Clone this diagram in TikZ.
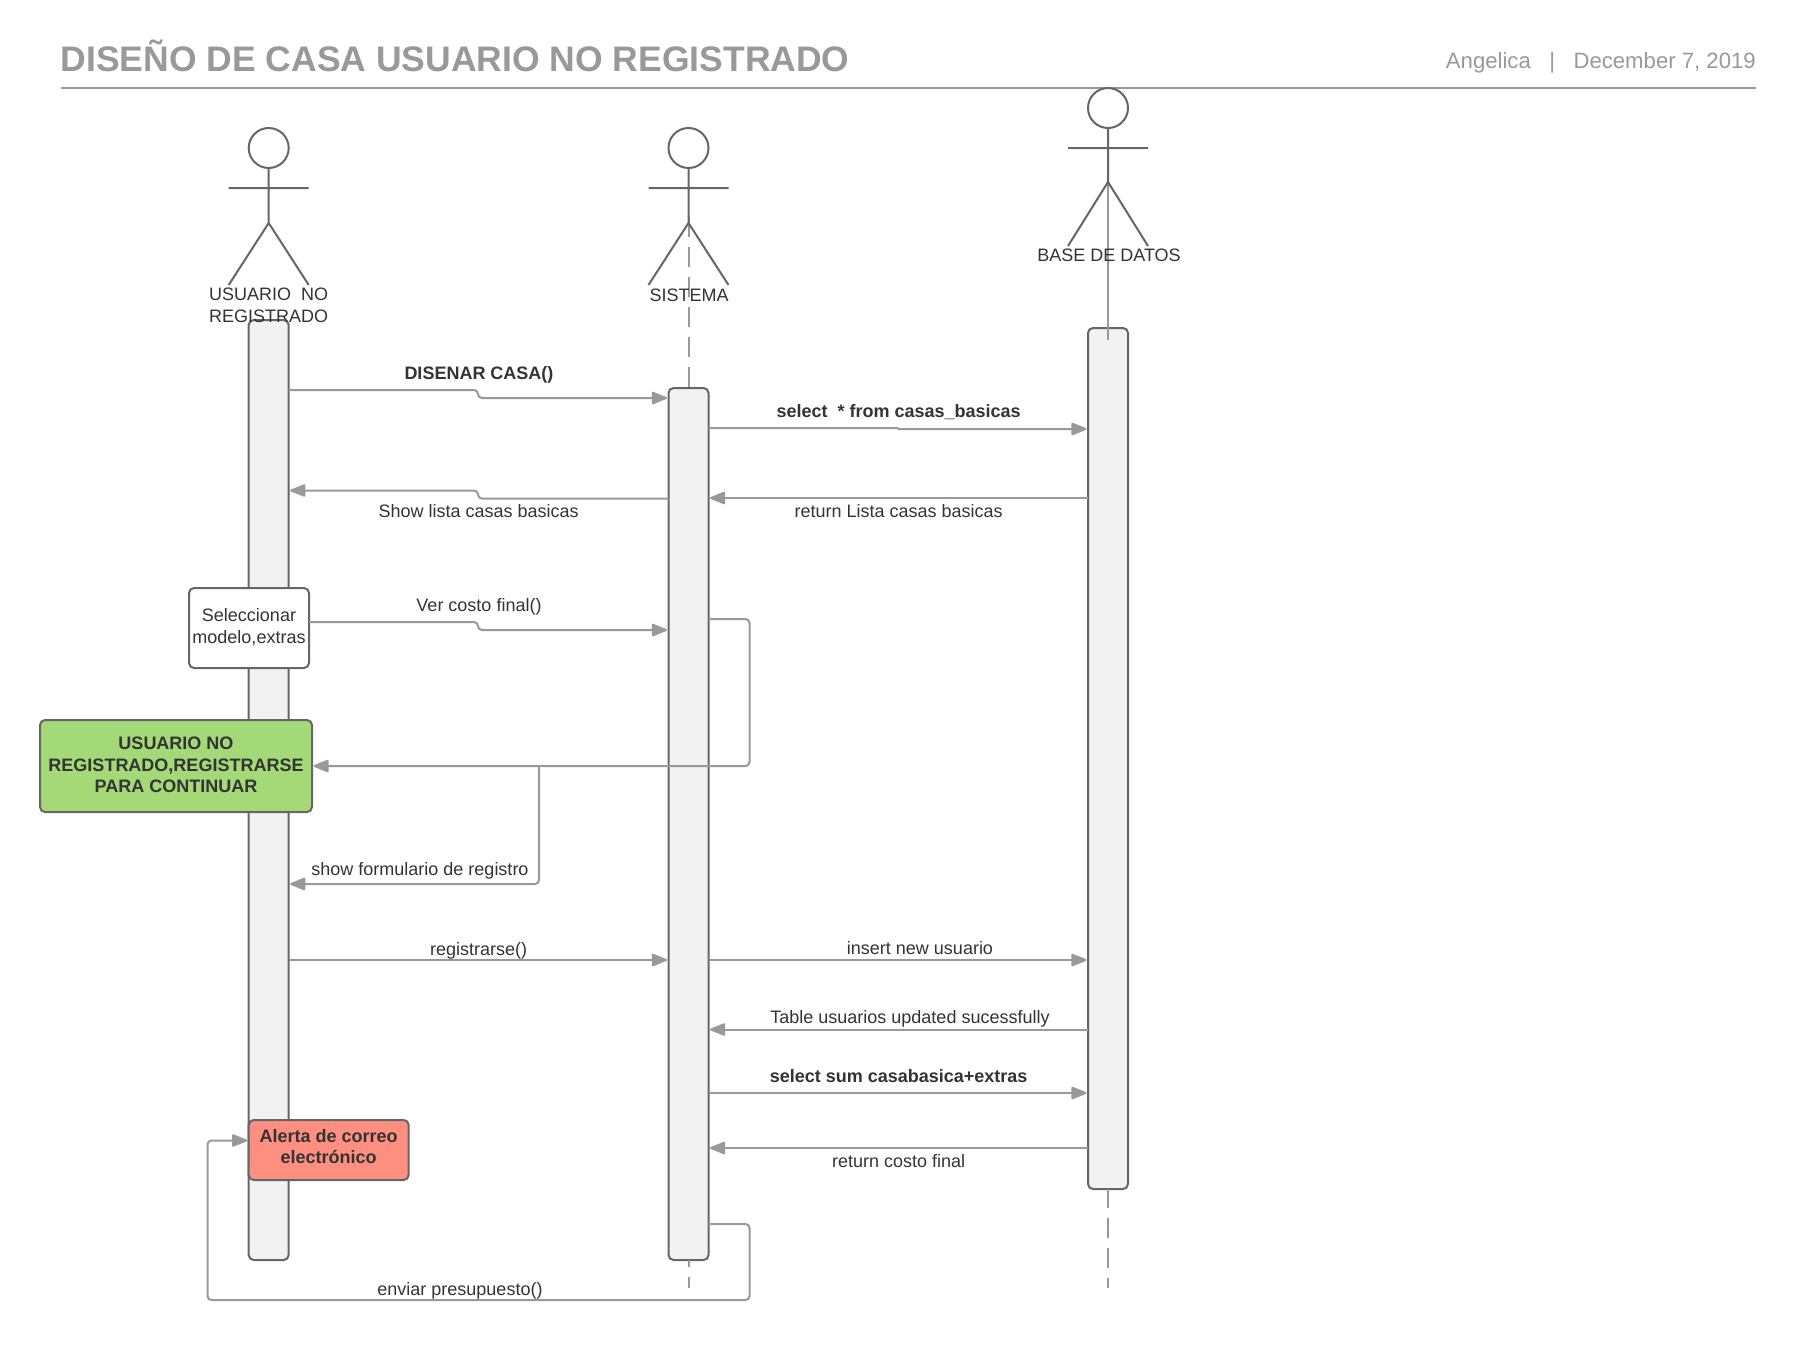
\documentclass[tikz,border=0pt]{standalone}
\usepackage{fontspec}
\setmainfont{Liberation Sans}
\usetikzlibrary{arrows.meta}
\definecolor{ink}{HTML}{333333}
\definecolor{edge}{HTML}{666666}
\definecolor{wire}{HTML}{999999}
\definecolor{barfill}{HTML}{F2F2F2}
\definecolor{greenfill}{HTML}{A3D977}
\definecolor{redfill}{HTML}{FF8F80}
\tikzset{
  x=1pt,y=-1pt,
  label/.style={font=\fontsize{18}{21.7}\selectfont,text=ink,inner sep=0pt,align=center},
  blabel/.style={label,font=\fontsize{18}{21.7}\selectfont\bfseries},
  bar/.style={draw=edge,line width=2pt,fill=barfill,rounded corners=5pt,anchor=north west,inner sep=0pt,outer sep=0pt,minimum width=40pt},
  box/.style={draw=edge,line width=2pt,rounded corners=5pt,inner sep=0pt,outer sep=0pt,anchor=north west},
  msg/.style={draw=wire,line width=2pt,rounded corners=4pt,-{Triangle[length=17pt,width=13pt,round=false]}},
  stick/.style={draw=edge,line width=2pt},
  life/.style={draw=wire,line width=2pt,dash pattern=on 20pt off 10pt},
}
\begin{document}
\begin{tikzpicture}
\useasboundingbox (0,0) rectangle (1797,1360);
% header
\node[font=\fontsize{35.5}{40}\selectfont\bfseries,text=wire,anchor=west,inner sep=0pt] (title) at (60.5,56) {DISEÑO DE CASA USUARIO NO REGISTRADO};
\node[font=\fontsize{22.15}{26}\selectfont,text=wire,anchor=east,inner sep=0pt] (meta) at (1756,62.5) {Angelica~~~|~~~December 7, 2019};
\coordinate (hl) at (60.5,88); \coordinate (hr) at (1756,88);
\draw[draw=wire,line width=2pt] (hl) -- (hr);

% activation bars
\node[bar,minimum height=940pt] (bar1) at (248.7,320) {};
\node[bar,minimum height=872pt] (bar2) at (668.5,388) {};
\node[bar,minimum height=861pt] (bar3) at (1088,328) {};

% lifelines
\coordinate (l2top) at (688.5,217); \coordinate (l2bot) at (688.5,1288);
\coordinate (l3bot) at (1108,1288);
\draw[life] (l2top) -- (bar2.north);
\draw[life,dash phase=13pt] (bar2.south) -- (l2bot);
\draw[life,dash phase=1pt] (bar3.south) -- (l3bot);
\coordinate (l3top) at (1108,182); \coordinate (l3end) at (1108,340);
\draw[draw=wire,line width=1.5pt] (l3top) -- (l3end);

% actors
\node[circle,draw=edge,line width=2pt,minimum size=40pt,inner sep=0pt,outer sep=0pt] (head1) at (268.7,148) {};
\draw[stick] (head1.south) -- (268.7,223) -- (228.7,285) (268.7,223) -- (308.7,285) (228.7,188) -- (308.7,188);
\node[label] (actor1) at (268.7,305.5) {USUARIO~~NO\\REGISTRADO};

\node[circle,draw=edge,line width=2pt,minimum size=40pt,inner sep=0pt,outer sep=0pt] (head2) at (688.5,148) {};
\draw[stick] (head2.south) -- (688.5,223) -- (648.5,285) (688.5,223) -- (728.5,285) (648.5,188) -- (728.5,188);
\node[label] (actor2) at (689,294.8) {SISTEMA};

\node[circle,draw=edge,line width=2pt,minimum size=40pt,inner sep=0pt,outer sep=0pt] (head3) at (1108,108) {};
\draw[stick] (head3.south) -- (1108,182) -- (1068,246) (1108,182) -- (1148,246) (1068,148) -- (1148,148);
\node[label] (actor3) at (1109,254.8) {BASE DE DATOS};

% boxes
\node[box,fill=white,minimum width=120pt,minimum height=80pt] (sel) at (189,588) {};
\node[label,yshift=1.2pt] (seltext) at (sel.center) {Seleccionar\\modelo,extras};
\node[box,fill=greenfill,minimum width=272pt,minimum height=92pt] (green) at (40,720) {};
\node[blabel,yshift=1.2pt] (greentext) at (green.center) {USUARIO NO\\REGISTRADO,REGISTRARSE\\PARA CONTINUAR};
\node[box,fill=redfill,minimum width=160pt,minimum height=60pt] (red) at (248.7,1120) {};
\node[blabel,yshift=3.5pt] (redtext) at (red.center) {Alerta de correo\\electrónico};

% messages
\draw[msg] (bar1.east |- 0,390) -- (478,390) -- (478,398) -- ([xshift=-1.5pt]bar2.west |- 0,398);
\node[blabel] (m1) at (479,375.2) {DISENAR CASA()};

\draw[msg,rounded corners=0.5pt] (bar2.east |- 0,428) -- (898,428) -- (898,429) -- ([xshift=-1.5pt]bar3.west |- 0,429);
\node[blabel] (m2) at (898.6,412) {select~~* from casas\_basicas};

\draw[msg] (bar3.west |- 0,498) -- ([xshift=1.5pt]bar2.east |- 0,498);
\node[label] (m3) at (898.6,511) {return Lista casas basicas};

\draw[msg] (bar2.west |- 0,498.5) -- (478,498.5) -- (478,490.5) -- ([xshift=1.5pt]bar1.east |- 0,490.5);
\node[label] (m4) at (478.6,511) {Show lista casas basicas};

\draw[msg] (sel.east |- 0,622) -- (478,622) -- (478,630) -- ([xshift=-1.5pt]bar2.west |- 0,630);
\node[label] (m5) at (479,607.2) {Ver costo final()};

\coordinate (loop1) at (749.5,619);
\coordinate (loop2) at (749.5,766);
\draw[msg] (bar2.east |- 0,619) -- (loop1) -- (loop2) -- ([xshift=1.5pt]green.east |- 0,766);

\coordinate (branch) at (539,766);
\coordinate (branchb) at (539,884);
\draw[msg] (branch) -- (branchb) -- ([xshift=1.5pt]bar1.east |- 0,884);
\node[label] (m7) at (420,870.8) {show formulario de registro};

\draw[msg] (bar1.east |- 0,960) -- ([xshift=-1.5pt]bar2.west |- 0,960);
\node[label] (m8) at (478.6,951.2) {registrarse()};

\draw[msg] (bar2.east |- 0,960) -- ([xshift=-1.5pt]bar3.west |- 0,960);
\node[label] (m9) at (920,948) {insert new usuario};

\draw[msg] (bar3.west |- 0,1029.5) -- ([xshift=1.5pt]bar2.east |- 0,1029.5);
\node[label] (m10) at (910,1019.2) {Table usuarios updated sucessfully};

\draw[msg] (bar2.east |- 0,1093) -- ([xshift=-1.5pt]bar3.west |- 0,1093);
\node[blabel] (m11) at (898.6,1076) {select sum casabasica+extras};

\draw[msg] (bar3.west |- 0,1148) -- ([xshift=1.5pt]bar2.east |- 0,1148);
\node[label] (m12) at (898.6,1161) {return costo final};

\coordinate (e1) at (749.5,1224); \coordinate (e2) at (749.5,1300);
\coordinate (e3) at (207.5,1300); \coordinate (e4) at (207.5,1140.5);
\draw[msg] (bar2.east |- 0,1224) -- (e1) -- (e2) -- (e3) -- (e4) -- ([xshift=-1.5pt]red.west |- 0,1140.5);
\node[label] (m13) at (460,1291.2) {enviar presupuesto()};
\end{tikzpicture}
\end{document}
